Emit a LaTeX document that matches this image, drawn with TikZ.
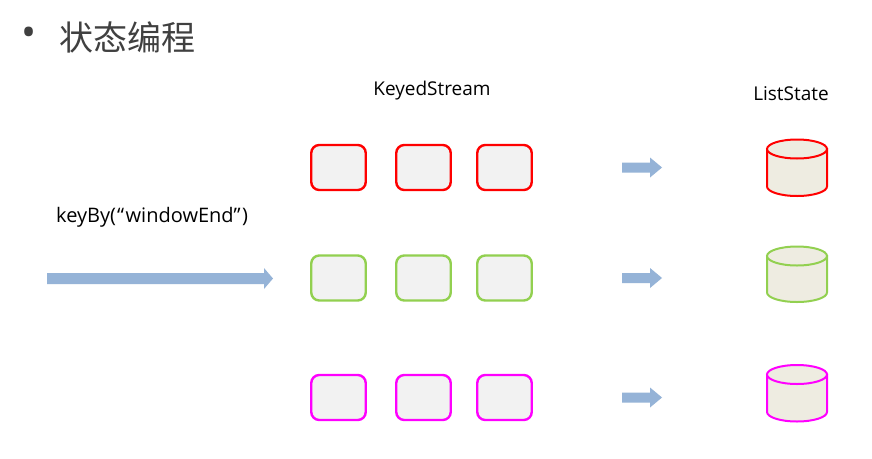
\documentclass[tikz,border=0pt]{standalone}
\usepackage{fontspec}
\setmainfont{Open Sans}
\newfontfamily\cjk{Noto Sans CJK SC}
\definecolor{arrowblue}{HTML}{95B3D7}
\definecolor{boxfill}{HTML}{F2F2F2}
\definecolor{cylfill}{HTML}{EEECE1}
\definecolor{kgreen}{HTML}{92D050}
\definecolor{kmag}{HTML}{FF00FF}
\definecolor{kred}{HTML}{FF0000}
\definecolor{titlegray}{HTML}{404040}
\begin{document}
\begin{tikzpicture}[x=1pt,y=-1pt,
  keybox/.style={draw=#1,fill=boxfill,line width=2.4pt,rounded corners=8pt,minimum width=54.5pt,minimum height=45pt,inner sep=0pt},
  blockarrow/.style={fill=arrowblue,draw=none},
  lbl/.style={inner sep=0pt,font=\fontsize{19}{22}\selectfont,text=black}
]
\useasboundingbox[fill=white] (0,0) rectangle (872,458);

% title
\node[inner sep=0pt,text=titlegray,font=\fontsize{40}{42}\selectfont] (bullet) at (29,37) {•};
\node[inner sep=0pt,anchor=west,text=titlegray,font=\cjk\fontsize{34}{36}\selectfont] (title) at (59,37) {状态编程};

% labels
\node[lbl] (ks) at (432,91) {KeyedStream};
\node[lbl] (ls) at (791,94) {ListState};
\node[lbl,anchor=west,font=\fontsize{20}{23}\selectfont] (kb) at (56,217) {keyBy(\kern1pt“\kern1.5pt windowEnd”\kern1.5pt)};

% big arrow
\fill[blockarrow] (47,273) -- (264,273) -- (264,268) -- (273,278.5) -- (264,289) -- (264,284) -- (47,284) -- cycle;

% boxes
\foreach \r/\y/\c in {r/167.5/kred, g/278/kgreen, m/397.5/kmag}{
  \node[keybox=\c] (\r1) at (338.5,\y) {};
  \node[keybox=\c] (\r2) at (423.5,\y) {};
  \node[keybox=\c] (\r3) at (504.5,\y) {};
  % small arrow
  \fill[blockarrow] (622,\y-5) -- (650,\y-5) -- (650,\y-10) -- (662,\y) -- (650,\y+10) -- (650,\y+5) -- (622,\y+5) -- cycle;
}

% cylinders
\foreach \t/\b/\c in {149/186.5/kred, 256/292.5/kgreen, 374.5/412/kmag}{
  \filldraw[draw=\c,fill=cylfill,line width=2pt]
    (767,\t) -- (767,\b) arc[start angle=180,end angle=360,x radius=30pt,y radius=9.5pt] -- (827,\t) -- cycle;
  \filldraw[draw=\c,fill=cylfill,line width=2pt] (797,\t) ellipse[x radius=30pt,y radius=9.5pt];
}
\end{tikzpicture}
\end{document}
